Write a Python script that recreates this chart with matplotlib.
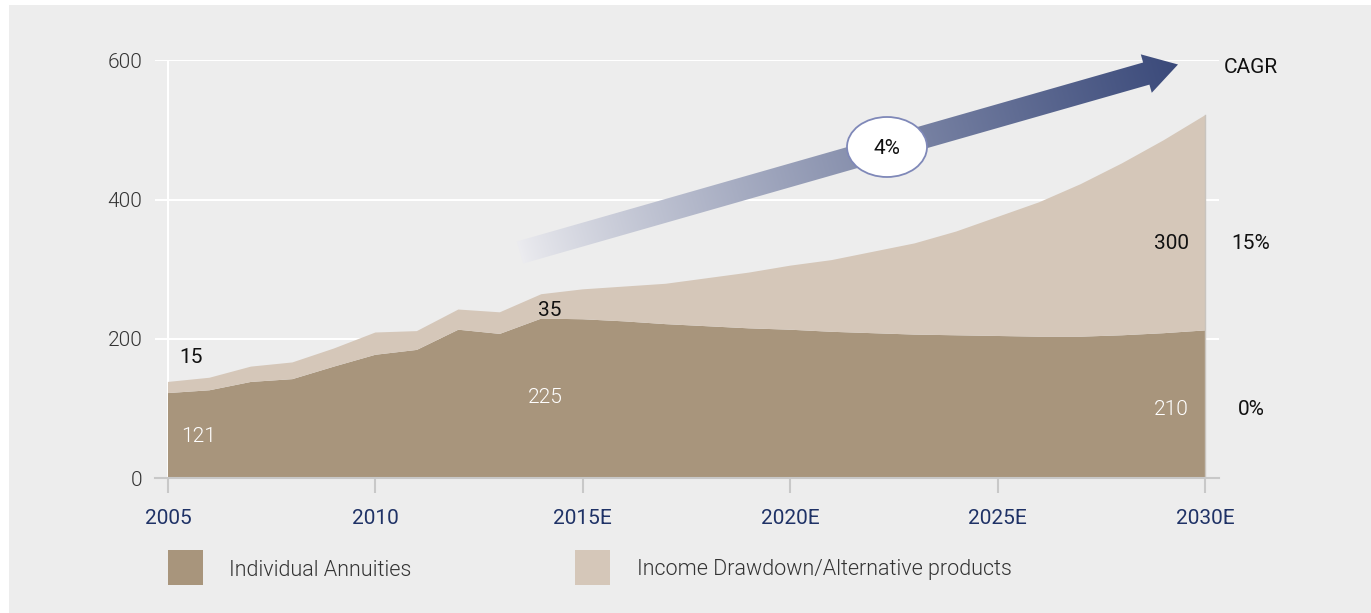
import numpy as np
import matplotlib
matplotlib.use("Agg")
import matplotlib.pyplot as plt
from matplotlib.patches import Rectangle, Ellipse, Polygon

plt.rcParams['font.family'] = ['Roboto', 'DejaVu Sans']

# data (GBP bn)
years = list(range(2005, 2031))
annuities = [122, 126, 138, 142, 160, 177, 184, 213, 207, 229, 228,
             225, 221, 218, 215, 213, 210, 208, 206, 205, 204,
             203, 203, 205, 208, 212]
total = [138, 144, 160, 166, 186, 209, 211, 242, 238, 264, 271,
         275, 279, 287, 295, 305, 313, 325, 337, 354, 375,
         396, 422, 452, 485, 521]
drawdown = [t - a for t, a in zip(total, annuities)]

tick_years = [2005, 2010, 2015, 2020, 2025, 2030]
tick_labels = ["2005", "2010", "2015E", "2020E", "2025E", "2030E"]
y_ticks = [0, 200, 400, 600]

c_annuity = "#a8957c"
c_drawdown = "#d5c7b9"
bg = "#ededed"
navy = "#1f3266"
W, H = 1371, 613

fig = plt.figure(figsize=(W / 100, H / 100), dpi=100, facecolor="white")
fig.patches.append(Rectangle((9 / W, 0), 1 - 9 / W, 608 / H, transform=fig.transFigure,
                             facecolor=bg, edgecolor="none", zorder=-10))

ax = fig.add_axes([155 / W, 135 / H, (1219 - 155) / W, (552.7 - 135) / H])
ax.set_facecolor(bg)
ax.set_xlim(2004.687, 2030.3375)
ax.set_ylim(0, 600)

for v in [200, 400, 600]:
    ax.axhline(v, color="white", lw=1.5, zorder=0)
ax.axvline(2005, color="white", lw=1.5, zorder=0)

ax.stackplot(years, annuities, drawdown, colors=[c_annuity, c_drawdown], lw=0, zorder=2)
ax.plot([2030, 2030], [0, total[-1]], color="#c9c4be", lw=1, zorder=3)

for s in ["top", "right", "left"]:
    ax.spines[s].set_visible(False)
ax.spines["bottom"].set_color("#c8c8c8")
ax.spines["bottom"].set_linewidth(1.5)
ax.spines["bottom"].set_zorder(4)

ax.set_xticks(tick_years)
ax.set_xticklabels(tick_labels, fontsize=15, color=navy)
ax.tick_params(axis="x", length=11, width=1.5, color="#c8c8c8", pad=11)
ax.get_xticklines()[0].set_color("white")
ax.set_yticks(y_ticks)
ax.set_yticklabels([str(v) for v in y_ticks], fontsize=15, color="#333333", fontweight=300)
ax.tick_params(axis="y", length=0, pad=9)

# value labels
lbl = dict(fontsize=15, va="center", zorder=5)
ax.text(2005.27, 173, "15", color="#111111", ha="left", **lbl)
ax.text(2005.31, 60, "121", color="white", ha="left", fontweight=300, **lbl)
ax.text(2014.2, 241, "35", color="#111111", ha="center", **lbl)
ax.text(2014.1, 116, "225", color="white", ha="center", fontweight=300, **lbl)
ax.text(2029.62, 337, "300", color="#111111", ha="right", **lbl)
ax.text(2029.62, 99, "210", color="white", ha="right", fontweight=300, **lbl)
ax.text(2031.11, 590, "CAGR", color="#111111", ha="center", clip_on=False, **lbl)
ax.text(2031.11, 337, "15%", color="#111111", ha="center", clip_on=False, **lbl)
ax.text(2031.11, 99, "0%", color="#111111", ha="center", clip_on=False, **lbl)

# overlay in pixel coordinates for arrow and legend
ov = fig.add_axes([0, 0, 1, 1], zorder=10)
ov.axis("off")
ov.patch.set_alpha(0)

tail = np.array([520.0, 252.5])
tip = np.array([1178.0, 64.5])
u = (tip - tail) / np.linalg.norm(tip - tail)
n = np.array([-u[1], u[0]])
hw, head_len, head_hw = 11.5, 33.0, 20.0
base = tip - u * head_len
pts = [tail + n * hw, base + n * hw, base + n * head_hw, tip,
       base - n * head_hw, base - n * hw, tail - n * hw]
arrow = Polygon(pts, closed=True, facecolor="none", edgecolor="none")
ov.add_patch(arrow)

xs = np.linspace(500, 1200, 400)
ys = np.linspace(30, 280, 150)
X, Y = np.meshgrid(xs, ys)
t = ((X - tail[0]) * u[0] + (Y - tail[1]) * u[1]) / np.linalg.norm(tip - tail)
t = np.clip(t, 0, 1) ** 0.85
c0 = np.array([0.925, 0.925, 0.94])
c1 = np.array([0.23, 0.29, 0.48])
img = c0[None, None, :] * (1 - t[..., None]) + c1[None, None, :] * t[..., None]
im = ov.imshow(img, extent=(500, 1200, 280, 30), origin="upper", interpolation="bilinear", zorder=5)
im.set_clip_path(arrow)
ov.set_xlim(0, W)
ov.set_ylim(H, 0)

ov.add_patch(Ellipse((887, 147), 80, 60, facecolor="white", edgecolor="#7f88b8", lw=1.3, zorder=6))
ov.text(887, 148, "4%", fontsize=15, ha="center", va="center", color="#111111", zorder=7)

# legend
ov.add_patch(Rectangle((168, 550), 35, 35, facecolor=c_annuity, edgecolor="none"))
ov.add_patch(Rectangle((575, 550), 35, 35, facecolor=c_drawdown, edgecolor="none"))
ov.text(229, 570, "Individual Annuities", fontsize=15.5, va="center", color="#333333", fontweight=300)
ov.text(637, 570, "Income Drawdown/Alternative products", fontsize=15.5, va="center",
        color="#333333", fontweight=300)

fig.savefig("out.png", dpi=100, facecolor="white")
